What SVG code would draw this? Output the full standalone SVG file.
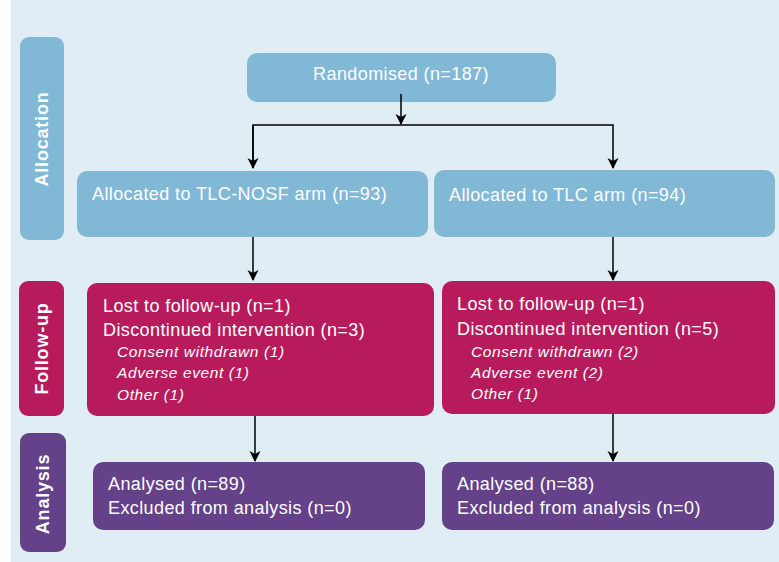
<svg xmlns="http://www.w3.org/2000/svg" width="779" height="562" viewBox="0 0 779 562">
<defs>
<marker id="ah" markerWidth="12" markerHeight="12" refX="10" refY="6" orient="auto" markerUnits="userSpaceOnUse">
<path d="M0,0.5 L11,6 L0,11.5 L3,6 z" fill="#000"/>
</marker>
</defs>
<style>
.bg{fill:#e0edf5}
.alloc{fill:#80b8d6}
.fu{fill:#b81b5c}
.an{fill:#65418a}
.lab{font-family:"Liberation Sans",Arial,sans-serif;font-weight:bold;font-size:18px;letter-spacing:0.8px;fill:#fff}
.t{font-family:"Liberation Sans",Arial,sans-serif;font-size:18px;letter-spacing:0.4px;fill:#fff}
.i{font-family:"Liberation Sans",Arial,sans-serif;font-size:15.5px;letter-spacing:0.6px;font-style:italic;fill:#fff}
.c{fill:none;stroke:#000;stroke-width:1.5}
</style>
<rect class="bg" x="11" y="0" width="768" height="562"/>
<g id="label-allocation">
<rect class="alloc" x="20" y="37" width="44" height="203" rx="9"/>
<text class="lab" transform="translate(48,139) rotate(-90)" text-anchor="middle">Allocation</text>
</g>
<g id="label-followup">
<rect class="fu" x="19" y="281" width="45" height="135" rx="9"/>
<text class="lab" transform="translate(48,348.5) rotate(-90)" text-anchor="middle">Follow-up</text>
</g>
<g id="label-analysis">
<rect class="an" x="20" y="433" width="46" height="119" rx="9"/>
<text class="lab" transform="translate(49,494) rotate(-90)" text-anchor="middle">Analysis</text>
</g>
<g id="randomised">
<rect class="alloc" x="247" y="53" width="309" height="49" rx="10"/>
<text class="t" x="401" y="80" text-anchor="middle">Randomised (n=187)</text>
</g>
<g id="alloc-nosf">
<rect class="alloc" x="77" y="171" width="351" height="66" rx="10"/>
<text class="t" x="92" y="200">Allocated to TLC-NOSF arm (n=93)</text>
</g>
<g id="alloc-tlc">
<rect class="alloc" x="434" y="170" width="341" height="67" rx="10"/>
<text class="t" x="449" y="201">Allocated to TLC arm (n=94)</text>
</g>
<g id="fu-nosf">
<rect class="fu" x="87" y="283" width="347" height="133" rx="10"/>
<text class="t" x="103" y="312">Lost to follow-up (n=1)</text>
<text class="t" x="103" y="336">Discontinued intervention (n=3)</text>
<text class="i" x="117" y="357">Consent withdrawn (1)</text>
<text class="i" x="117" y="378">Adverse event (1)</text>
<text class="i" x="117" y="400">Other (1)</text>
</g>
<g id="fu-tlc">
<rect class="fu" x="442" y="281" width="333" height="133" rx="10"/>
<text class="t" x="457" y="310">Lost to follow-up (n=1)</text>
<text class="t" x="457" y="335">Discontinued intervention (n=5)</text>
<text class="i" x="471" y="357">Consent withdrawn (2)</text>
<text class="i" x="471" y="378">Adverse event (2)</text>
<text class="i" x="471" y="399">Other (1)</text>
</g>
<g id="an-nosf">
<rect class="an" x="93" y="462" width="332" height="68" rx="10"/>
<text class="t" x="108" y="490">Analysed (n=89)</text>
<text class="t" x="108" y="514">Excluded from analysis (n=0)</text>
</g>
<g id="an-tlc">
<rect class="an" x="442" y="462" width="332" height="68" rx="10"/>
<text class="t" x="457" y="490">Analysed (n=88)</text>
<text class="t" x="457" y="514">Excluded from analysis (n=0)</text>
</g>
<g id="connectors">
<path class="c" d="M401,94 V124" marker-end="url(#ah)"/>
<path class="c" d="M253,168 V125 H613 V168" marker-end="url(#ah)"/>
<path class="c" d="M253,125 V168" marker-end="url(#ah)"/>
<path class="c" d="M253,237 V280" marker-end="url(#ah)"/>
<path class="c" d="M613,237 V280" marker-end="url(#ah)"/>
<path class="c" d="M255,416 V461" marker-end="url(#ah)"/>
<path class="c" d="M613,414 V461" marker-end="url(#ah)"/>
</g>
</svg>
